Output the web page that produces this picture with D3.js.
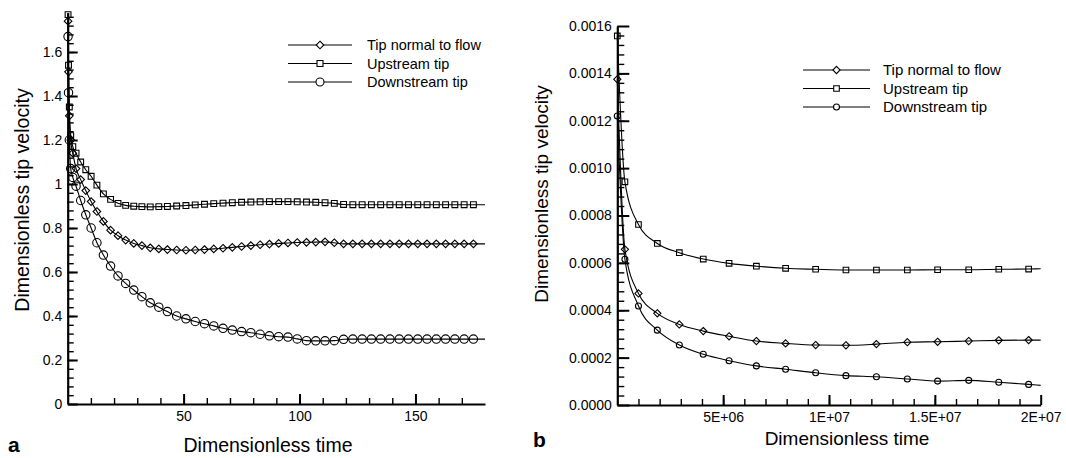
<!DOCTYPE html>
<html><head><meta charset="utf-8">
<script src="https://cdn.jsdelivr.net/npm/d3@7"></script>
<style>
body{margin:0;background:#fff}
svg{display:block}
text{font-family:"Liberation Sans",Arial,Helvetica,sans-serif;fill:#000}
</style>
</head><body>
<svg id="c" width="1066" height="458"></svg>
<script>
// ---------- data ----------
const seriesNames = ["Tip normal to flow", "Upstream tip", "Downstream tip"];
const seriesMarkers = ["diamond", "square", "circle"];

// panel a (last point = line end, no marker)
const timeA = [0.15, 0.35, 0.7, 1.3, 2.2, 3.6, 5.6, 7.8, 10.1, 12.6, 15.4, 18.5, 21.7, 25, 28.5, 32, 35.6, 39.3,
  43, 47, 51, 55, 59, 63, 67, 71, 75, 79, 83, 87, 91, 95, 99, 103, 107, 111, 115, 119, 123, 127, 131, 135, 139,
  143, 147, 151, 155, 159, 163, 167, 171, 175, 180];
const normalA = [1.74, 1.51, 1.31, 1.2, 1.14, 1.07, 1.02, 0.97, 0.92, 0.875, 0.83, 0.79, 0.765, 0.745, 0.73, 0.72, 0.71, 0.705,
  0.702, 0.7, 0.699, 0.7, 0.702, 0.705, 0.708, 0.712, 0.716, 0.72, 0.724, 0.727, 0.73, 0.732, 0.734, 0.735, 0.736, 0.737, 0.733, 0.728, 0.728, 0.728, 0.728, 0.728, 0.728,
  0.728, 0.728, 0.728, 0.728, 0.728, 0.728, 0.728, 0.728, 0.728, 0.728];
const upstreamA = [1.77, 1.54, 1.35, 1.22, 1.17, 1.14, 1.10, 1.065, 1.035, 0.995, 0.955, 0.93, 0.912, 0.903, 0.899, 0.897, 0.896, 0.897,
  0.898, 0.9, 0.902, 0.905, 0.908, 0.911, 0.913, 0.915, 0.917, 0.918, 0.919, 0.92, 0.92, 0.92, 0.919, 0.918, 0.917, 0.915, 0.912, 0.907, 0.906, 0.906, 0.906, 0.906, 0.906,
  0.906, 0.906, 0.906, 0.906, 0.906, 0.906, 0.906, 0.906, 0.906, 0.906];
const downstreamA = [1.67, 1.415, 1.2, 1.07, 1.03, 0.99, 0.925, 0.86, 0.80, 0.733, 0.677, 0.627, 0.582, 0.548, 0.518, 0.488, 0.46, 0.44,
  0.42, 0.4, 0.387, 0.375, 0.365, 0.355, 0.344, 0.336, 0.329, 0.324, 0.317, 0.31, 0.306, 0.304, 0.296, 0.288, 0.287, 0.287, 0.288, 0.294, 0.295, 0.295, 0.295, 0.295, 0.295,
  0.295, 0.295, 0.295, 0.295, 0.295, 0.295, 0.295, 0.295, 0.295, 0.295];

// panel b (last point = line end, no marker)
const timeB = [0, 0.36e6, 1.0e6, 1.89e6, 2.93e6, 4.06e6, 5.28e6, 6.57e6, 7.95e6, 9.37e6, 10.8e6, 12.24e6, 13.7e6,
  15.13e6, 16.6e6, 18.02e6, 19.43e6, 2.0e7];
const normalB = [0.001375, 0.000657, 0.000471, 0.000387, 0.00034, 0.000312, 0.00029, 0.00027, 0.00026, 0.000253, 0.000252,
  0.000257, 0.000265, 0.000267, 0.00027, 0.000273, 0.000274, 0.000274];
const upstreamB = [0.001558, 0.000942, 0.000762, 0.000682, 0.000643, 0.000616, 0.000598, 0.000586, 0.000577, 0.000573, 0.00057,
  0.00057, 0.00057, 0.000571, 0.000571, 0.000573, 0.000574, 0.000575];
const downstreamB = [0.00122, 0.000615, 0.000418, 0.000316, 0.000253, 0.000214, 0.000187, 0.000165, 0.000151, 0.000136, 0.000124,
  0.000119, 0.00011, 0.000101, 0.000104, 0.000096, 0.000087, 0.000083];

// ticks
const xTicksA = [50, 100, 150];
const yTicksA = [0, 0.2, 0.4, 0.6, 0.8, 1, 1.2, 1.4, 1.6];
const yTickLabelsA = ["0", "0.2", "0.4", "0.6", "0.8", "1", "1.2", "1.4", "1.6"];
const xTicksB = [5e6, 1e7, 1.5e7, 2e7];
const xTickLabelsB = ["5E+06", "1E+07", "1.5E+07", "2E+07"];
const yTicksB = [0, 0.0002, 0.0004, 0.0006, 0.0008, 0.0010, 0.0012, 0.0014, 0.0016];
const yTickLabelsB = ["0.0000", "0.0002", "0.0004", "0.0006", "0.0008", "0.0010", "0.0012", "0.0014", "0.0016"];

const xTitle = "Dimensionless time";
const yTitle = "Dimensionless tip velocity";

// ---------- drawing ----------
const svg = d3.select("#c");

function markerPath(type, s) {
  if (type === "diamond") return `M0,${-s}L${s},0L0,${s}L${-s},0Z`;
  if (type === "square") return `M${-s},${-s}H${s}V${s}H${-s}Z`;
  return `M${s},0A${s},${s} 0 1,1 ${-s},0A${s},${s} 0 1,1 ${s},0Z`;
}

function range(a, b, step) { const r = []; for (let v = a; v <= b + step * 1e-6; v += step) r.push(+v.toFixed(10)); return r; }

function panel(cfg) {
  const g = svg.append("g");
  const x = d3.scaleLinear().domain(cfg.xDomain).range(cfg.xRange);
  const y = d3.scaleLinear().domain(cfg.yDomain).range(cfg.yRange);

  // minor ticks
  g.append("g").attr("transform", `translate(0,${cfg.yRange[0]})`)
    .call(d3.axisBottom(x).tickValues(cfg.xMinor).tickSize(-6).tickFormat(""))
    .call(a => a.select(".domain").remove())
    .selectAll("line").attr("stroke-width", 1.4);
  g.append("g").attr("transform", `translate(${cfg.xRange[0]},0)`)
    .call(d3.axisLeft(y).tickValues(cfg.yMinor).tickSize(-cfg.yMinorLen).tickFormat(""))
    .call(a => a.select(".domain").remove())
    .selectAll("line").attr("stroke-width", 1.4);

  // major axes
  const xa = g.append("g").attr("transform", `translate(0,${cfg.yRange[0]})`)
    .call(d3.axisBottom(x).tickValues(cfg.xTicks).tickSize(-10).tickSizeOuter(0).tickPadding(7)
      .tickFormat((d, i) => cfg.xLabels[i]));
  const ya = g.append("g").attr("transform", `translate(${cfg.xRange[0]},0)`)
    .call(d3.axisLeft(y).tickValues(cfg.yTicks).tickSize(-cfg.yMajorLen).tickSizeOuter(0).tickPadding(5.5)
      .tickFormat((d, i) => cfg.yLabels[i]));
  [xa, ya].forEach(a => {
    a.attr("font-family", null).attr("font-size", null);
    a.select(".domain").attr("stroke-width", 2.2).attr("stroke", "#000");
    a.selectAll(".tick line").attr("stroke-width", 2).attr("stroke", "#000");
    a.selectAll(".tick text").style("font-size", "14px").attr("fill", "#000");
  });

  // series
  const line = d3.line().x(d => x(d[0])).y(d => y(d[1])).curve(d3.curveMonotoneX);
  cfg.series.forEach((vals, si) => {
    const pts = cfg.time.map((t, i) => [t, vals[i]]);
    g.append("path").attr("d", line(pts)).attr("fill", "none").attr("stroke", "#000").attr("stroke-width", 1.1);
    g.selectAll(null).data(pts.slice(0, -1)).enter().append("path")
      .attr("transform", d => `translate(${x(d[0])},${y(d[1])})`)
      .attr("d", markerPath(seriesMarkers[si], cfg.msize[si]))
      .attr("fill", "none").attr("stroke", "#000").attr("stroke-width", 1.1);
  });

  // legend
  const lg = g.append("g");
  seriesNames.forEach((name, i) => {
    const yy = cfg.legY + i * cfg.legDy;
    lg.append("line").attr("x1", cfg.legX1).attr("x2", cfg.legX2).attr("y1", yy).attr("y2", yy)
      .attr("stroke", "#000").attr("stroke-width", 1.1);
    lg.append("path").attr("transform", `translate(${(cfg.legX1 + cfg.legX2) / 2},${yy})`)
      .attr("d", markerPath(seriesMarkers[i], cfg.legMsize[i]))
      .attr("fill", "#fff").attr("stroke", "#000").attr("stroke-width", 1.1);
    lg.append("text").attr("x", cfg.legText).attr("y", yy).attr("dy", "0.35em")
      .style("font-size", cfg.legFont + "px").text(name);
  });

  // titles
  g.append("text").attr("x", cfg.xTitleX).attr("y", cfg.xTitleY).attr("text-anchor", "middle")
    .style("font-size", cfg.titleFont + "px").text(xTitle);
  g.append("text").attr("transform", `translate(${cfg.yTitleX},${cfg.yTitleY}) rotate(-90)`)
    .attr("text-anchor", "middle").style("font-size", cfg.titleFont + "px").text(yTitle);
  g.append("text").attr("x", cfg.tagX).attr("y", cfg.tagY).style("font-size", "21px")
    .style("font-weight", "bold").text(cfg.tag);
}

panel({
  xDomain: [0, 180], xRange: [67.7, 485],
  yDomain: [0, 1.78], yRange: [404, 12.4],
  xTicks: xTicksA, xLabels: xTicksA.map(String),
  yTicks: yTicksA, yLabels: yTickLabelsA,
  xMinor: range(10, 170, 10), yMinor: range(0.04, 1.76, 0.04),
  yMajorLen: 10, yMinorLen: 6,
  time: timeA, series: [normalA, upstreamA, downstreamA],
  msize: [3.8, 2.9, 4.2], legMsize: [3.8, 3, 4],
  legX1: 288, legX2: 352, legY: 45, legDy: 18.5, legText: 367, legFont: 14.5,
  xTitleX: 268, xTitleY: 452, yTitleX: 29, yTitleY: 200, titleFont: 19.5,
  tag: "a", tagX: 8, tagY: 452
});

panel({
  xDomain: [0, 2e7], xRange: [617.3, 1040.7],
  yDomain: [0, 0.0016], yRange: [405, 26],
  xTicks: xTicksB, xLabels: xTickLabelsB,
  yTicks: yTicksB, yLabels: yTickLabelsB,
  xMinor: range(1e6, 1.9e7, 1e6), yMinor: range(0.00004, 0.00156, 0.00004),
  yMajorLen: 12, yMinorLen: 7,
  time: timeB, series: [normalB, upstreamB, downstreamB],
  msize: [3.6, 2.8, 3], legMsize: [3.6, 2.8, 3],
  legX1: 803, legX2: 870, legY: 70, legDy: 18.5, legText: 883, legFont: 15,
  xTitleX: 847, xTitleY: 445, yTitleX: 548, yTitleY: 194, titleFont: 19,
  tag: "b", tagX: 533, tagY: 447
});
</script>
</body></html>
